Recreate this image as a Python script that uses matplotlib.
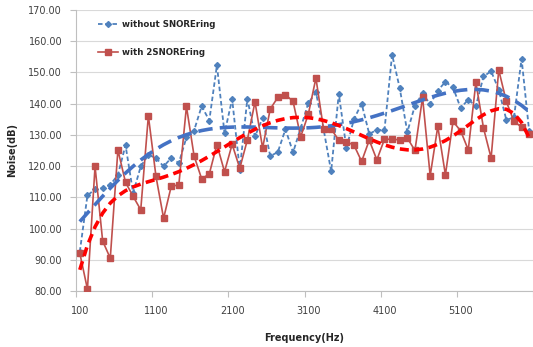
import numpy as np
import matplotlib
matplotlib.use('Agg')
import matplotlib.pyplot as plt

# frequencies (Hz), one category every 100 Hz
freq = [100, 200, 300, 400, 500, 600, 700, 800, 900, 1000,
        1100, 1200, 1300, 1400, 1500, 1600, 1700, 1800, 1900, 2000,
        2100, 2200, 2300, 2400, 2500, 2600, 2700, 2800, 2900, 3000,
        3100, 3200, 3300, 3400, 3500, 3600, 3700, 3800, 3900, 4000,
        4100, 4200, 4300, 4400, 4500, 4600, 4700, 4800, 4900, 5000,
        5100, 5200, 5300, 5400, 5500, 5600, 5700, 5800, 5900, 6000]

# noise without SNOREring (dB)
without_ring = [92.6, 110.6, 112.6, 113.0, 114.0, 117.2, 126.7, 111.4, 119.9, 123.6,
                122.6, 119.9, 122.6, 121.0, 129.2, 131.4, 139.2, 134.6, 152.3, 130.5,
                141.5, 118.8, 141.6, 129.5, 135.4, 123.2, 124.5, 131.8, 124.4, 132.2,
                140.2, 143.6, 131.9, 118.3, 143.2, 125.8, 135.1, 140.0, 130.3, 131.6,
                131.6, 155.7, 145.0, 130.9, 139.4, 143.3, 139.8, 144.2, 147.0, 145.2,
                138.6, 141.3, 139.2, 148.7, 150.4, 144.5, 134.8, 135.6, 154.4, 131.1]

# noise with 2SNOREring (dB)
with_ring = [92.1, 80.6, 119.9, 96.0, 90.5, 125.2, 114.8, 110.3, 106.0, 136.1,
             116.7, 103.3, 113.5, 114.0, 139.1, 123.3, 115.9, 117.5, 126.9, 118.2,
             127.0, 119.3, 128.4, 140.6, 125.8, 138.3, 142.0, 142.9, 140.7, 129.4,
             136.6, 148.2, 131.9, 131.9, 128.3, 127.8, 126.7, 121.5, 128.3, 122.0,
             128.6, 128.6, 128.4, 129.0, 125.0, 142.0, 116.9, 132.7, 117.2, 134.3,
             131.3, 125.2, 146.8, 132.2, 122.6, 150.8, 140.7, 134.3, 132.5, 130.3]

x_labels = ['100', '1100', '2100', '3100', '4100', '5100']
y_ticks = [80, 90, 100, 110, 120, 130, 140, 150, 160, 170]

blue = '#4F81BD'
red = '#C0504D'

x = np.array(freq, dtype=float)
xs = (x - x.mean()) / x.std()

# 6th order polynomial trendlines, like the spreadsheet ones
fit_blue = np.polyval(np.polyfit(xs, without_ring, 6), xs)
fit_red = np.polyval(np.polyfit(xs, with_ring, 6), xs)

fig = plt.figure(figsize=(5.33, 3.47), dpi=100)
ax = fig.add_axes([0.1426, 0.1614, 0.8574, 0.8098])

ax.plot(freq, without_ring, color=blue, lw=1.3, dashes=(2.5, 1.5), marker='D',
        ms=3, mec=blue, mfc=blue, label='without SNOREring', zorder=3)
ax.plot(freq, with_ring, color=red, lw=1.2, marker='s', ms=4, mec=red, mfc=red,
        label='with 2SNOREring', zorder=3)
ax.plot(freq, fit_blue, color='#4472C4', lw=2.6, dashes=(4, 2), zorder=4)
ax.plot(freq, fit_red, color='#FF0000', lw=2.6, dashes=(2.5, 1.5), zorder=5)

ax.set_xlim(50, 6016)
ax.set_ylim(80, 170)
ax.set_yticks(y_ticks)
ax.set_yticklabels(['%.2f' % v for v in y_ticks])
ax.set_xticks([int(s) for s in x_labels])
ax.set_xticklabels(x_labels)
ax.set_xticks([50 + 1000 * k for k in range(7)], minor=True)
ax.tick_params(axis='x', which='major', length=0, pad=11, labelsize=7, labelcolor='#404040')
ax.tick_params(axis='x', which='minor', length=4, color='#BFBFBF', width=0.8)
ax.tick_params(axis='y', length=4, color='#BFBFBF', width=0.8, pad=6, labelsize=7,
               labelcolor='#404040')

ax.grid(axis='y', color='#D9D9D9', lw=0.8)
ax.set_axisbelow(True)
for s in ['top', 'right']:
    ax.spines[s].set_visible(False)
for s in ['left', 'bottom']:
    ax.spines[s].set_color('#BFBFBF')
    ax.spines[s].set_linewidth(0.8)

ax.set_xlabel('Frequency(Hz)', fontsize=7, fontweight='bold', color='#262626', labelpad=12)
ax.set_ylabel('Noise(dB)', fontsize=7, fontweight='bold', color='#262626', labelpad=8)

leg = ax.legend(loc='upper left', bbox_to_anchor=(0.045, 0.972), frameon=False,
                fontsize=6.2, handlelength=2.3, handletextpad=0.4, labelspacing=2.2,
                borderpad=0.2, borderaxespad=0)
for t in leg.get_texts():
    t.set_fontweight('bold')
    t.set_color('#262626')

fig.savefig('out.png', dpi=100)
